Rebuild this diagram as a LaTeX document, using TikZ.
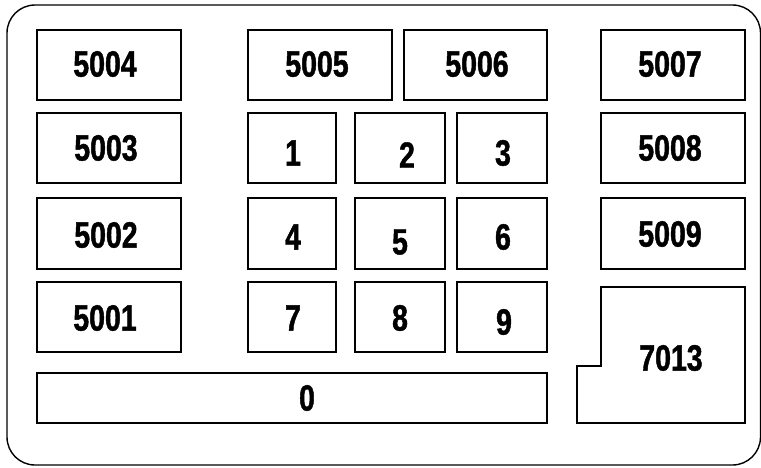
\documentclass[tikz,border=0pt]{standalone}
\usepackage{fontspec}
\newfontfamily\keyfont{Liberation Sans}[FakeStretch=0.78,FakeBold=1.2]
\begin{document}
\begin{tikzpicture}[x=1pt,y=-1pt,
  box/.style={draw=black,line width=1.7pt,inner sep=0pt,rectangle},
  lbl/.style={inner sep=0pt,font=\keyfont\bfseries\fontsize{36.5}{36.5}\selectfont},
  outer/.style={draw=black,line width=1.4pt,rounded corners=28pt}]
\useasboundingbox (0,0) rectangle (761,467);
\draw[outer] (7,5) rectangle (760.5,465);
% box macro: name, x1,y1,x2,y2
\newcommand\kbox[5]{\node[box,minimum width={#4-#2},minimum height={#5-#3}] (#1) at ({(#2+#4)/2},{(#3+#5)/2}) {};}
% row 1
\kbox{b5004}{37}{30}{181}{100}
\kbox{b5005}{248}{30}{392}{100}
\kbox{b5006}{404}{30}{547}{100}
\kbox{b5007}{601}{30}{745}{100}
% row 2
\kbox{b5003}{37}{113}{181}{183}
\kbox{b1}{248}{113}{336}{183}
\kbox{b2}{355}{113}{445}{183}
\kbox{b3}{457}{113}{547}{183}
\kbox{b5008}{601}{113}{745}{183}
% row 3
\kbox{b5002}{37}{198}{181}{269}
\kbox{b4}{248}{198}{336}{269}
\kbox{b5}{355}{198}{445}{269}
\kbox{b6}{457}{198}{547}{269}
\kbox{b5009}{601}{198}{745}{269}
% row 4
\kbox{b5001}{37}{282}{181}{352}
\kbox{b7}{248}{282}{336}{352}
\kbox{b8}{355}{282}{445}{352}
\kbox{b9}{457}{282}{547}{352}
% bar
\kbox{b0}{37}{373}{547}{423}
% 7013 shape
\draw[line width=1.7pt,line join=miter] (577,423) -- (577,366) -- (601,366) -- (601,287) -- (745,287) -- (745,423) -- cycle;
% labels
\node[lbl] (t5004) at (105,64) {5004};
\node[lbl] (t5005) at (317,64) {5005};
\node[lbl] (t5006) at (477,64) {5006};
\node[lbl] (t5007) at (670,64) {5007};
\node[lbl] (t5003) at (106,148) {5003};
\node[lbl] (t1) at (293,153) {1};
\node[lbl] (t2) at (407,155) {2};
\node[lbl] (t3) at (503,153) {3};
\node[lbl] (t5008) at (670,148) {5008};
\node[lbl] (t5002) at (106,235) {5002};
\node[lbl] (t4) at (293,237) {4};
\node[lbl] (t5) at (400,242) {5};
\node[lbl] (t6) at (503,237) {6};
\node[lbl] (t5009) at (670,234) {5009};
\node[lbl] (t5001) at (105,318) {5001};
\node[lbl] (t7) at (293,318) {7};
\node[lbl] (t8) at (400,318) {8};
\node[lbl] (t9) at (504,322) {9};
\node[lbl] (t0) at (307,398) {0};
\node[lbl] (t7013) at (671,358) {7013};
\end{tikzpicture}
\end{document}
